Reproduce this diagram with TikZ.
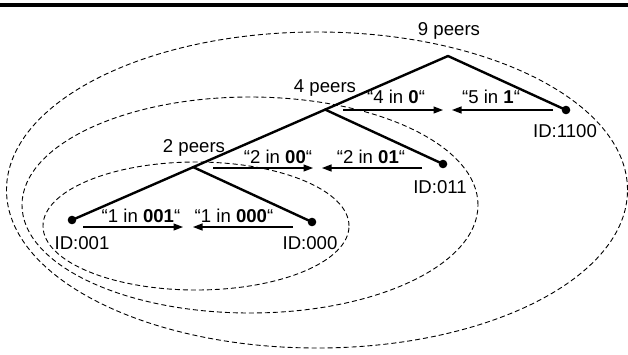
\documentclass[tikz,border=0pt]{standalone}
\usepackage{fontspec}
\setmainfont{Liberation Sans}
\usetikzlibrary{arrows.meta,shapes.geometric}
\tikzset{
  lbl/.style={anchor=base,inner sep=0pt,font=\fontsize{18.6}{22}\selectfont},
  dot/.style={circle,fill=black,inner sep=0pt,minimum size=8.6pt},
  branch/.style={line width=2.4pt,line cap=round,line join=round},
  msg/.style={line width=1.15pt,-{Triangle[length=9.5pt,width=7pt]}},
  zone/.style={ellipse,draw,dashed,dash pattern=on 5pt off 3pt,line width=0.9pt,inner sep=0pt}
}
\begin{document}
\begin{tikzpicture}[x=1pt,y=-1pt]
\useasboundingbox (0,0) rectangle (628,354);
\fill (0,2.5) rectangle (628,6.7);
% zones
\node[zone,minimum width=621pt,minimum height=316pt] (outer) at (317,190) {};
\node[zone,minimum width=456pt,minimum height=216pt] (middle) at (250,205) {};
\node[zone,minimum width=306pt,minimum height=128pt] (inner) at (196,226) {};
% tree
\coordinate (apex) at (448,56);
\coordinate (j4) at (325,109.5);
\coordinate (j2) at (193,167);
\node[dot] (n1100) at (566,110) {};
\node[dot] (n011) at (443,164) {};
\node[dot] (n001) at (72,220) {};
\node[dot] (n000) at (312,222) {};
\draw[branch] (n001.center) -- (apex) -- (n1100.center);
\draw[branch] (j4) -- (n011.center);
\draw[branch] (j2) -- (n000.center);
% labels
\node[lbl] (p9) at (449,35) {9 peers};
\node[lbl] (p4) at (325,92) {4 peers};
\node[lbl] (p2) at (194,152) {2 peers};
\node[lbl] (id1100) at (565,137) {ID:1100};
\node[lbl] (id011) at (440,193) {ID:011};
\node[lbl] (id001) at (82,249) {ID:001};
\node[lbl] (id000) at (310,249) {ID:000};
\node[lbl] (m40) at (396,103) {“4 in \textbf{0}“};
\node[lbl] (m51) at (491,103) {“5 in \textbf{1}“};
\node[lbl] (m200) at (278,163) {“2 in \textbf{00}“};
\node[lbl] (m201) at (371,163) {“2 in \textbf{01}“};
\node[lbl] (m1001) at (141,222) {“1 in \textbf{001}“};
\node[lbl] (m1000) at (234,222) {“1 in \textbf{000}“};
% message arrows
\coordinate (a1s) at (343,110); \coordinate (a1e) at (443,110);
\coordinate (a2s) at (553,110); \coordinate (a2e) at (452,110);
\coordinate (a3s) at (213,168); \coordinate (a3e) at (313,168);
\coordinate (a4s) at (422,168); \coordinate (a4e) at (322,168);
\coordinate (a5s) at (83,227); \coordinate (a5e) at (183,227);
\coordinate (a6s) at (293,227); \coordinate (a6e) at (193,227);
\draw[msg] (a1s) -- (a1e);
\draw[msg] (a2s) -- (a2e);
\draw[msg] (a3s) -- (a3e);
\draw[msg] (a4s) -- (a4e);
\draw[msg] (a5s) -- (a5e);
\draw[msg] (a6s) -- (a6e);
\end{tikzpicture}
\end{document}
